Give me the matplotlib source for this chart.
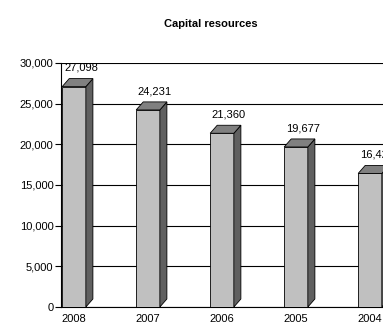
import matplotlib
matplotlib.use("Agg")
import matplotlib.pyplot as plt
from matplotlib.patches import Polygon

# values
years = ["2008", "2007", "2006", "2005", "2004"]
capital = [27098, 24231, 21360, 19677, 16420]
value_labels = ["27,098", "24,231", "21,360", "19,677", "16,420"]
y_ticks = [0, 5000, 10000, 15000, 20000, 25000, 30000]

plt.rcParams['font.family'] = ['Liberation Sans', 'DejaVu Sans']

fig = plt.figure(figsize=(3.83, 3.25), dpi=100)
ax = fig.add_axes([61 / 383, 18 / 325, 346 / 383, 244 / 325])

width = 0.32
dx = 0.095   # depth of the fake 3d bars, x data units
dy = 985     # depth, y data units

for i, v in enumerate(capital):
    x0 = i - width / 2
    x1 = i + width / 2
    ax.bar(i, v, width=width, color="#c0c0c0", edgecolor="black", linewidth=0.6, zorder=3)
    side = Polygon([(x1, 0), (x1 + dx, dy), (x1 + dx, v + dy), (x1, v)],
                   closed=True, facecolor="#606060", edgecolor="black", linewidth=0.6, zorder=3)
    top = Polygon([(x0, v), (x0 + dx, v + dy), (x1 + dx, v + dy), (x1, v)],
                  closed=True, facecolor="#808080", edgecolor="black", linewidth=0.6, zorder=3)
    ax.add_patch(side)
    ax.add_patch(top)
    ax.annotate(value_labels[i], (i, v), xytext=(5, 13.5), textcoords="offset points",
                ha="center", va="center", fontsize=8, clip_on=False)

ax.set_xlim(-0.176, 4.5)
ax.set_ylim(0, 30000)
ax.set_yticks(y_ticks)
ax.set_yticklabels([f"{t:,}" for t in y_ticks])
ax.set_xticks(range(len(years)))
ax.set_xticklabels(years)
ax.tick_params(axis="y", length=4, width=0.8, pad=1.5, labelsize=8)
ax.tick_params(axis="x", length=0, pad=5, labelsize=8)

ax.yaxis.grid(True, color="black", linewidth=0.8, zorder=0)
ax.set_axisbelow(True)
for s in ["top", "right"]:
    ax.spines[s].set_visible(False)
ax.spines["left"].set_linewidth(0.8)
ax.spines["bottom"].set_linewidth(0.8)

fig.text(211 / 383, 1 - 24 / 325, "Capital resources", ha="center", va="center",
         fontsize=8, fontweight="bold")

fig.savefig("out.png", dpi=100)
